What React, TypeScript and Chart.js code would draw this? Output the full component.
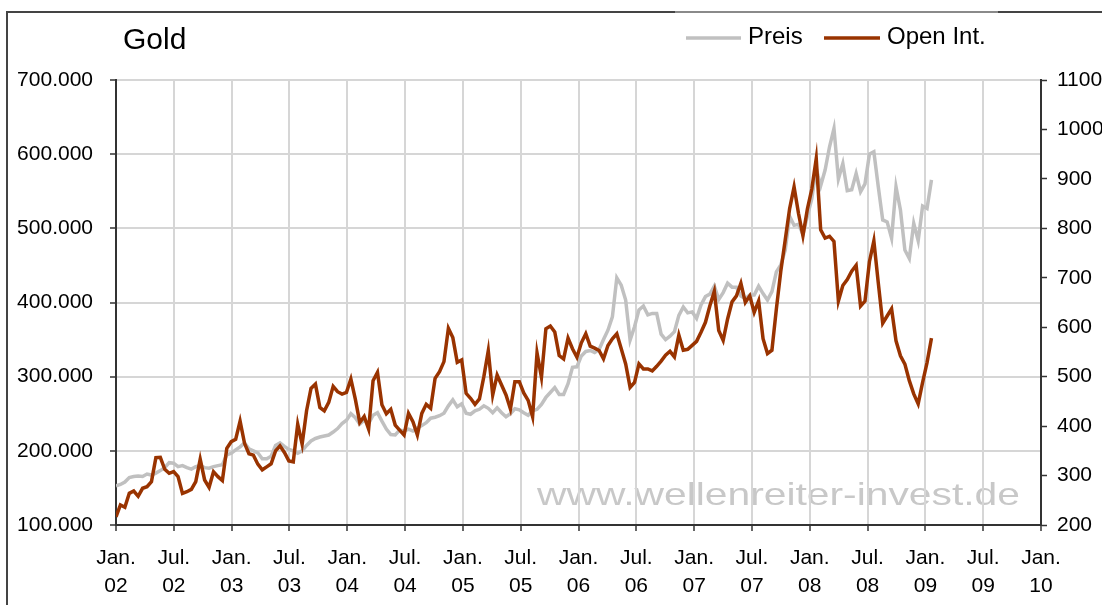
import React, { useEffect, useRef } from 'react';
import { Chart, registerables } from 'chart.js';

Chart.register(...registerables);

// Readings every 14 days starting Jan 2002
const START_YEAR = 2002;
const STEP_DAYS = 14;
const X_MIN = 2002;
const X_MAX = 2010;
const MONTH_LABELS = ['Jan.', 'Jul.'];

const TITLE = 'Gold';
const WATERMARK = 'www.wellenreiter-invest.de';
const SERIES_PRICE = 'Preis';
const SERIES_OI = 'Open Int.';

// Open interest (left axis)
const openInterest = [
  111000, 127000, 124000, 142700, 145800, 138700, 149500, 151700, 158400, 190700,
  191200, 175100, 169700, 171900, 165200, 142700, 144900, 148100, 158400, 188600,
  160700, 150800, 171900, 165200, 160000, 203400, 212300, 215500, 240000, 210100,
  196000, 194200, 182000, 174400, 178400, 182500, 200000, 206800, 197800, 186500,
  185200, 236000, 209000, 254000, 284200, 290000, 258500, 254000, 265300, 286900,
  279700, 276500, 278800, 296800, 269800, 238300, 246400, 229300, 294500, 305800,
  262000, 250000, 256000, 234700, 228000, 221300, 250500, 239300, 221300, 250500,
  262700, 257300, 297800, 306800, 320300, 365300, 352700, 319400, 322500, 277500,
  270800, 262700, 269900, 300000, 335000, 275300, 302300, 288800, 275300, 256400,
  293300, 293300, 278000, 268000, 246000, 332000, 299100, 364700, 368300, 360200,
  328500, 324000, 352000, 337600, 326200, 345700, 357900, 341200, 338500, 335300,
  324000, 342100, 351100, 357900, 337600, 317200, 285500, 292300, 317200, 310400,
  310400, 307700, 314000, 321000, 328900, 334200, 326700, 356000, 335600, 336900,
  342200, 347600, 360000, 373300, 395500, 415000, 362200, 348900, 377800, 400900,
  408900, 426000, 400000, 408900, 386700, 402200, 351100, 331100, 335600, 391100,
  442200, 484400, 526600, 556000, 520000, 490000, 526000, 553000, 594000, 498000,
  486800, 489100, 482400, 401900, 422900, 431000, 442100, 450000, 395200, 401900,
  455000, 483000, 426500, 372000, 381800, 391600, 348300, 328200, 317000, 294600,
  276800, 263300, 292400, 319000, 352000,
];

// Gold price (right axis)
const goldPrice = [
  279, 282, 287, 296, 298, 299, 298, 303, 301, 305,
  310, 316, 326, 325, 318, 320, 316, 313, 318, 320,
  316, 315, 318, 320, 322, 342, 345, 352, 358, 366,
  354, 350, 346, 334, 334, 339, 361, 366, 359, 353,
  350, 345, 350, 361, 370, 375, 378, 380, 382, 388,
  395, 405, 412, 425, 417, 404, 412, 405, 422, 427,
  410, 394, 383, 382, 392, 390, 394, 390, 396, 401,
  407, 416, 418, 421, 426, 441, 453, 439, 445, 426,
  424, 431, 434, 441, 436, 427, 437, 427, 419, 425,
  435, 433, 427, 422, 431, 434, 444, 458, 468, 478,
  464, 464, 486, 519, 520, 542, 551, 553, 549, 555,
  575, 594, 621, 700, 685, 655, 574, 601, 635, 643,
  625, 628, 628, 586, 575, 582, 591, 624, 641, 629,
  631, 618, 645, 662, 667, 683, 656, 670, 689, 681,
  681, 663, 658, 665, 665, 683, 668, 655, 672, 712,
  726, 756, 824, 806, 808, 788, 825, 860, 921, 886,
  918, 965, 1002, 900, 931, 876, 878, 911, 874, 890,
  950, 955, 884, 817, 813, 780, 884, 837, 756, 739,
  810, 775, 845, 840, 898,
];

const FONT = '"Liberation Sans", Arial, sans-serif';
const BROWN = '#993300';
const GREY = '#c0c0c0';
const AXIS = '#333333';
const GRID = '#d6d6d6';

function toPoints(values: number[]) {
  return values.map((v, i) => ({ x: START_YEAR + (i * STEP_DAYS) / 365.25, y: v }));
}

function formatThousands(v: number) {
  const s = Math.round(v).toString();
  return s.replace(/\B(?=(\d{3})+(?!\d))/g, '.');
}

export default function App() {
  const ref = useRef<HTMLCanvasElement>(null);

  useEffect(() => {
    if (!ref.current) return;

    const decor = {
      id: 'decor',
      beforeDraw(chart: any) {
        const ctx = chart.ctx as CanvasRenderingContext2D;
        ctx.save();
        ctx.font = `32px ${FONT}`;
        ctx.fillStyle = '#c8c8c8';
        ctx.textBaseline = 'alphabetic';
        const w = ctx.measureText(WATERMARK).width;
        ctx.translate(537, 505);
        ctx.scale(483 / w, 1);
        ctx.fillText(WATERMARK, 0, 0);
        ctx.restore();
      },
      afterDraw(chart: any) {
        const ctx = chart.ctx as CanvasRenderingContext2D;
        ctx.save();
        // outer frame
        ctx.lineWidth = 2;
        ctx.strokeStyle = '#444444';
        ctx.beginPath();
        ctx.moveTo(7, 605);
        ctx.lineTo(7, 12);
        ctx.lineTo(675, 12);
        ctx.stroke();
        ctx.beginPath();
        ctx.moveTo(998, 12);
        ctx.lineTo(1102, 12);
        ctx.stroke();
        ctx.strokeStyle = '#8a8a8a';
        ctx.beginPath();
        ctx.moveTo(675, 12);
        ctx.lineTo(998, 12);
        ctx.stroke();

        // title
        ctx.fillStyle = '#000';
        ctx.font = `30px ${FONT}`;
        ctx.textBaseline = 'alphabetic';
        ctx.fillText(TITLE, 123, 49);

        // legend
        ctx.lineWidth = 3.5;
        ctx.lineCap = 'butt';
        ctx.strokeStyle = GREY;
        ctx.beginPath();
        ctx.moveTo(686, 38);
        ctx.lineTo(741, 38);
        ctx.stroke();
        ctx.strokeStyle = BROWN;
        ctx.beginPath();
        ctx.moveTo(824, 38);
        ctx.lineTo(880, 38);
        ctx.stroke();
        ctx.font = `24px ${FONT}`;
        ctx.fillText(SERIES_PRICE, 748, 44);
        ctx.fillText(SERIES_OI, 887, 44);
        ctx.restore();
      },
    };

    const tickFont = { family: FONT, size: 21 };

    const chart = new Chart(ref.current, {
      type: 'line',
      data: {
        datasets: [
          {
            label: SERIES_OI,
            data: toPoints(openInterest),
            yAxisID: 'y',
            borderColor: BROWN,
            backgroundColor: BROWN,
            borderWidth: 3.5,
            pointRadius: 0,
            tension: 0,
          },
          {
            label: SERIES_PRICE,
            data: toPoints(goldPrice),
            yAxisID: 'y1',
            borderColor: GREY,
            backgroundColor: GREY,
            borderWidth: 3.5,
            pointRadius: 0,
            tension: 0,
          },
        ],
      },
      options: {
        animation: false,
        responsive: false,
        devicePixelRatio: 1,
        layout: { padding: { top: 80, left: 0, right: 0, bottom: 0 } },
        plugins: {
          legend: { display: false },
          tooltip: { enabled: false },
          title: { display: false },
        },
        scales: {
          x: {
            type: 'linear',
            min: X_MIN,
            max: X_MAX,
            afterFit: (s: any) => {
              s.height = 80;
            },
            ticks: {
              stepSize: 0.5,
              autoSkip: false,
              maxRotation: 0,
              minRotation: 0,
              padding: 13,
              color: '#000',
              font: { ...tickFont, lineHeight: 28 / 21 },
              callback: (v: any) => {
                const val = Number(v);
                const yr = Math.floor(val + 1e-6);
                const m = val - yr > 0.25 ? MONTH_LABELS[1] : MONTH_LABELS[0];
                return [m, String(yr % 100).padStart(2, '0')];
              },
            },
            grid: { color: GRID, lineWidth: 2, tickLength: 6, tickColor: AXIS, tickWidth: 1.5 },
            border: { color: AXIS, width: 2 },
          },
          y: {
            position: 'left',
            min: 100000,
            max: 700000,
            afterFit: (s: any) => {
              s.width = 116;
            },
            ticks: {
              stepSize: 100000,
              padding: 17,
              color: '#000',
              font: tickFont,
              callback: (v: any) => formatThousands(Number(v)),
            },
            grid: { color: GRID, lineWidth: 2, tickLength: 6, tickColor: AXIS, tickWidth: 1.5 },
            border: { color: AXIS, width: 2 },
          },
          y1: {
            position: 'right',
            min: 200,
            max: 1100,
            afterFit: (s: any) => {
              s.width = 61;
            },
            ticks: {
              stepSize: 100,
              padding: 10,
              color: '#000',
              font: tickFont,
              callback: (v: any) => String(Math.round(Number(v))),
            },
            grid: { drawOnChartArea: false, tickLength: 6, tickColor: AXIS, tickWidth: 1.5 },
            border: { color: AXIS, width: 2 },
          },
        },
      } as any,
      plugins: [decor],
    });

    return () => chart.destroy();
  }, []);

  return (
    <div style={{ position: 'absolute', left: 0, top: 0, width: 1102, height: 605 }}>
      <canvas ref={ref} width={1102} height={605} style={{ display: 'block' }} />
    </div>
  );
}
